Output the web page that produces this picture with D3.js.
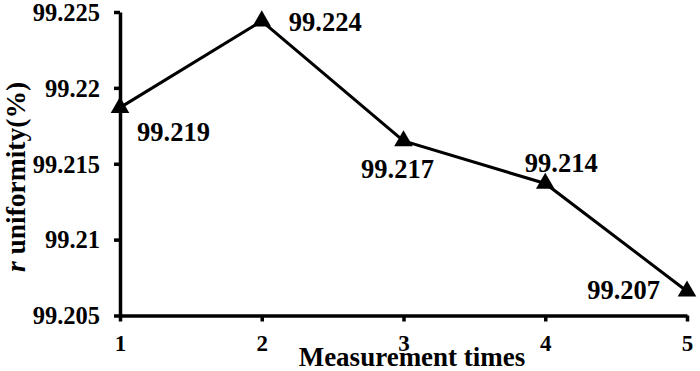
<!DOCTYPE html>
<html><head><meta charset="utf-8">
<script src="https://cdn.jsdelivr.net/npm/d3@7"></script>
<style>
html,body{margin:0;padding:0;background:#fff;}
</style></head>
<body>
<svg id="chart" width="700" height="371"></svg>
<script>
const categories = [1, 2, 3, 4, 5];
const values = [99.2187, 99.2244, 99.2165, 99.2137, 99.2066];
const labels = ["99.219", "99.224", "99.217", "99.214", "99.207"];
const yTicks = [99.205, 99.21, 99.215, 99.22, 99.225];
const yTickLabels = ["99.205", "99.21", "99.215", "99.22", "99.225"];
const xTitle = "Measurement times";
const yTitleItalic = "r";
const yTitleRest = " uniformity(%)";

const FONT = "'Liberation Serif', 'Times New Roman', Tinos, 'DejaVu Serif', serif";

const svg = d3.select("#chart");
const x = d3.scaleLinear().domain([1, 5]).range([120, 687]);
const y = d3.scaleLinear().domain([99.205, 99.225]).range([315.5, 12]);

// axes
const xAxis = d3.axisBottom(x).tickValues(categories).tickFormat(d3.format("d")).tickSize(6).tickSizeOuter(0);
const gx = svg.append("g").attr("transform", `translate(0,${y(99.205)})`).call(xAxis)
  .attr("font-family", FONT).attr("font-weight", "bold");
gx.select(".domain").attr("stroke", "#000").attr("stroke-width", 3.5);
gx.selectAll(".tick line").attr("stroke", "#000").attr("stroke-width", 3.5);
gx.selectAll(".tick text").attr("fill", "#000").attr("font-size", 23).attr("dy", "0.34em").attr("y", 28);

const yAxis = d3.axisLeft(y).tickValues(yTicks).tickFormat((d, i) => yTickLabels[i]).tickSize(6).tickSizeOuter(0);
const gy = svg.append("g").attr("transform", `translate(${x(1)},0)`).call(yAxis)
  .attr("font-family", FONT).attr("font-weight", "bold");
gy.select(".domain").attr("stroke", "#000").attr("stroke-width", 3.5);
gy.selectAll(".tick line").attr("stroke", "#000").attr("stroke-width", 3.5);
gy.selectAll(".tick text").attr("fill", "#000").attr("font-size", 24.5).attr("x", -20).attr("dy", "0.34em");

// line
const line = d3.line().x((d, i) => x(categories[i])).y(d => y(d));
svg.append("path").datum(values).attr("d", line)
  .attr("fill", "none").attr("stroke", "#000").attr("stroke-width", 3);

// markers
const tri = d3.symbol().type(d3.symbolTriangle).size(150);
svg.selectAll("path.marker").data(values).join("path").attr("class", "marker")
  .attr("d", tri).attr("fill", "#000")
  .attr("transform", (d, i) => `translate(${x(categories[i])},${y(d)})`);

// data labels
const offs = [
  {dx: 17, dy: 24, anchor: "start"},
  {dx: 27, dy: 1, anchor: "start"},
  {dx: -6, dy: 28, anchor: "middle"},
  {dx: 16, dy: -20, anchor: "middle"},
  {dx: -27, dy: -1, anchor: "end"}
];
svg.selectAll("text.dl").data(values).join("text").attr("class", "dl")
  .attr("x", (d, i) => x(categories[i]) + offs[i].dx)
  .attr("y", (d, i) => y(d) + offs[i].dy)
  .attr("dy", "0.34em")
  .attr("text-anchor", (d, i) => offs[i].anchor)
  .attr("font-family", FONT).attr("font-weight", "bold")
  .attr("font-size", 26.5)
  .text((d, i) => labels[i]);

// axis titles
svg.append("text").attr("x", 412).attr("y", 366).attr("text-anchor", "middle")
  .attr("font-family", FONT).attr("font-weight", "bold")
  .attr("font-size", 27).text(xTitle);

const yt = svg.append("text").attr("transform", "translate(25,177) rotate(-90)")
  .attr("font-family", FONT).attr("font-weight", "bold")
  .attr("text-anchor", "middle").attr("font-size", 27.5);
yt.append("tspan").attr("font-style", "italic").text(yTitleItalic);
yt.append("tspan").text(yTitleRest);
</script>
</body></html>
